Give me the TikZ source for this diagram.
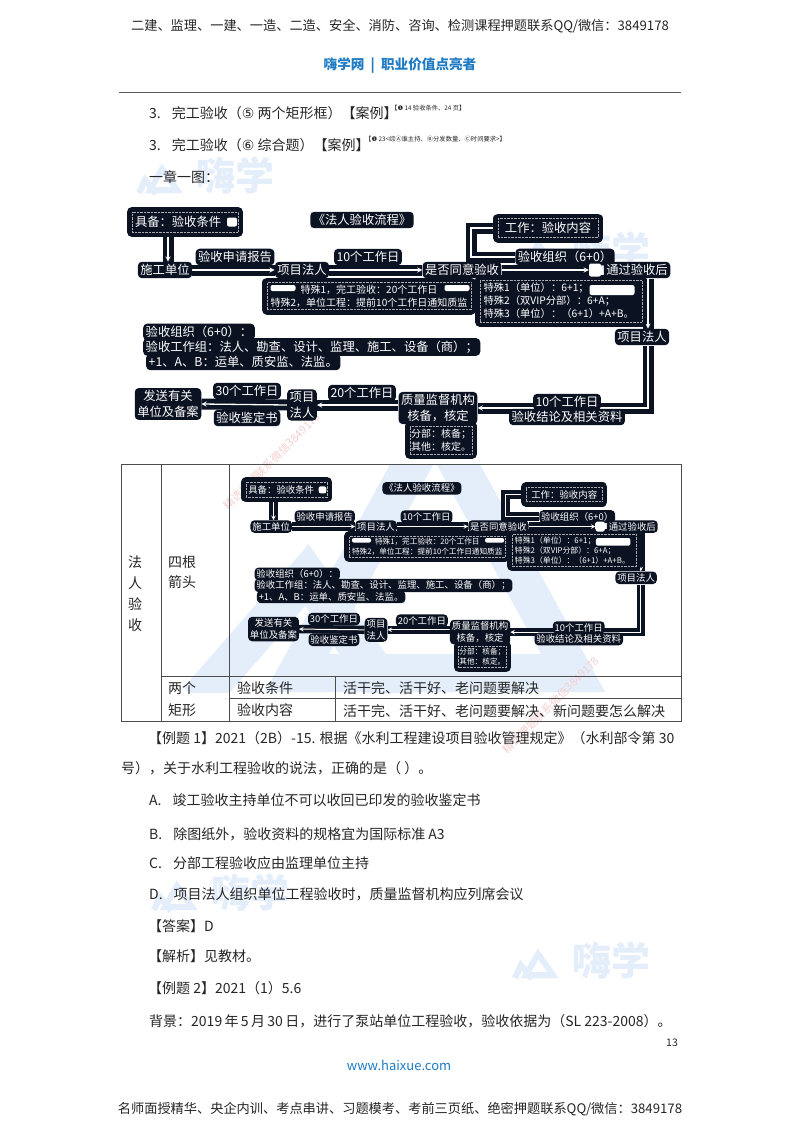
\documentclass[tikz,border=0pt]{standalone}
\usepackage{fontspec}
\setmainfont{Noto Sans CJK SC}
\newfontfamily\symfont{DejaVu Sans}
\usetikzlibrary{backgrounds}
\definecolor{halo}{HTML}{0B1222}
\definecolor{inkgrey}{HTML}{262626}
\definecolor{siteblue}{HTML}{1F7CC4}
\definecolor{markblue}{HTML}{E4EEFB}
\definecolor{stampred}{HTML}{F6CFCF}
% full-width punctuation
\newcommand{\zcm}{\char"FF0C\relax}
\newcommand{\zcl}{\char"FF1A\relax}
\newcommand{\zsc}{\char"FF1B\relax}
\newcommand{\zlp}{\char"FF08\relax}
\newcommand{\zrp}{\char"FF09\relax}
\tikzset{
	bodytext/.style={anchor=west, text=inkgrey, inner sep=0pt, font=\fontsize{14}{16}\selectfont},
	celltext/.style={text=inkgrey, inner sep=0pt, align=center, font=\fontsize{14}{20.5}\selectfont},
	glowtext/.style={fill=halo, text=white, rounded corners=4pt, inner sep=2.5pt, align=center, font=\fontsize{12.3}{15.5}\selectfont},
	panel/.style={fill=halo, draw=white!65!halo, line width=.4pt, densely dotted, text=white, inner sep=0pt, align=center, preaction={draw=halo, line width=10pt, solid, line join=round}},
	blob/.style={fill=white, rounded corners=2pt, inner sep=0pt},
	flowline/.style={-stealth, draw=white, line width=\k*1.3pt, preaction={draw=halo, line width=\k*11pt, -}},
	stamp/.style={rotate=45, text=stampred, inner sep=0pt, font=\fontsize{11}{13}\selectfont},
}
\begin{document}
\begin{tikzpicture}[x=1pt, y=-1pt]
\path[use as bounding box] (0,0) rectangle (800,1132);

% Watermarks
\begin{pgfonlayer}{background}
\fill[white] (0,0) rectangle (800,1132);
\foreach \dx/\dy/\i in {-376/-785/1, 0/-710/2, -361/-68/3, 0/0/4} {
	\begin{scope}[shift={(\dx,\dy)}]
		\draw[markblue, line width=6pt, line join=miter] (515,978) -- (521,965) -- (532,979);
		\draw[markblue, line width=6pt, line join=miter] (526,975) -- (538,954) -- (553,975) -- cycle;
		\node[text=markblue, inner sep=0pt, font=\fontsize{39}{40}\selectfont\bfseries] (mark\i) at (611,961) {嗨学};
	\end{scope}
}
\begin{scope}
	\clip (121,464) rectangle (681,692);
	\draw[markblue, line width=38pt, line join=miter] (297,673) -- (435,422) -- (573,673) -- cycle;
	\draw[markblue, line width=38pt, line join=miter] (198,700) -- (307,575) -- (395,700);
\end{scope}
\node[stamp] (stampa) at (272,461) {精选押题联系微信3849178};
\node[stamp] (stampb) at (551,705) {精选押题联系微信3849178};
\end{pgfonlayer}

% Page head
\node[text=inkgrey, inner sep=0pt, font=\fontsize{13.2}{16}\selectfont] (headline) at (400,26) {二建、监理、一建、一造、二造、安全、消防、咨询、检测课程押题联系QQ/微信\zcl 3849178};
\node[text=siteblue, inner sep=0pt, font=\fontsize{13.6}{16}\selectfont\bfseries] (brand) at (400,66) {嗨学网\ \ |\ \ 职业价值点亮者};
\draw[black!65, line width=1pt] (119,92) -- (681,92);

% Lines over the flow
\node[bodytext] (item1) at (149,113) {3.\hspace{11pt}完工验收\zlp{\symfont⑤} 两个矩形框\zrp 【案例】};
\node[anchor=west, text=inkgrey, inner sep=0pt, font=\fontsize{6.3}{8}\selectfont] (note1) at (391,108) {【{\symfont❶} 14 验收条件、24 页】};
\node[bodytext] (item2) at (149,145) {3.\hspace{11pt}完工验收\zlp{\symfont⑥} 综合题\zrp 【案例】};
\node[anchor=west, text=inkgrey, inner sep=0pt, font=\fontsize{6.3}{8}\selectfont] (note2) at (365,139) {【{\symfont❶} 23<综Ⓐ谁主持、Ⓑ分发数量、Ⓒ时间要求>】};
\node[bodytext] (oneimg) at (149,177) {一章一图\zcl};

% Table
\draw[black!70, line width=.8pt] (121,464) rectangle (681,721);
\draw[black!70, line width=.8pt] (161,464) -- (161,721);
\draw[black!70, line width=.8pt] (229,464) -- (229,721);
\draw[black!70, line width=.8pt] (335,676) -- (335,721);
\draw[black!70, line width=.8pt] (161,676) -- (681,676);
\draw[black!70, line width=.8pt] (229,698) -- (681,698);
\foreach \n/\x/\y/\t in {fa/135/562/法, ren/135/583/人, yan/135/604/验, shou/135/625/收, si/182/562/四根, jian/182/582/箭头, liang/182/688/两个, ju/182/710/矩形, cond/265/688/验收条件, cont/265/710/验收内容}
	\node[celltext] (cell\n) at (\x,\y) {\t};
\node[celltext, anchor=west] (work1) at (343,688) {活干完、活干好、老问题要解决};
\node[celltext, anchor=west] (work2) at (343,711) {活干完、活干好、老问题要解决、新问题要怎么解决};

% The flow, large and then small
\foreach \p/\k/\dx/\dy in {a/1/0/0, b/0.765/145/320} {
	\begin{scope}[shift={(\dx,\dy)}, scale=\k, every node/.append style={scale=\k}]

	% Panels
	\node[panel, minimum width=106pt, minimum height=20pt, text width=100pt, align=left, font=\fontsize{12.3}{15}\selectfont] (\p req) at (185,222) {具备\zcl 验收条件};
	\node[panel, minimum width=100pt, minimum height=19pt, font=\fontsize{12.3}{15}\selectfont] (\p work) at (548,228) {工作\zcl 验收内容};
	\node[panel, minimum width=204pt, minimum height=27pt, font=\fontsize{10}{13}\selectfont] (\p tsa) at (369,296) {特殊1\zcm 完工验收\zcl 20个工作日\\特殊2\zcm 单位工程\zcl 提前10个工作日通知质监};
	\node[panel, minimum width=162pt, minimum height=42pt, text width=155pt, align=left, font=\fontsize{10.3}{13}\selectfont] (\p tsb) at (561,301) {特殊1\zlp 单位\zrp\zcl 6+1\zsc\\特殊2\zlp 双VIP分部\zrp\zcl 6+A\zsc\\特殊3\zlp 单位\zrp\zcl\zlp 6+1\zrp +A+B。};
	\node[panel, minimum width=62pt, minimum height=28pt, font=\fontsize{10}{13}\selectfont] (\p part) at (441,440) {分部\zcl 核备\zsc\\其他\zcl 核定。};

	% Labels
	\foreach \n/\x/\y/\t in {title/362/220/《法人验收流程》, shigong/165/270/施工单位, apply/235/257/验收申请报告, owner/302/270/项目法人, daya/368/257/10个工作日, agree/462/270/是否同意验收, group/565/257/{验收组织\zlp 6+0\zrp}, pass/637/270/通过验收后, ownerb/642/337/项目法人, dayb/567/402/10个工作日, result/567/417/验收结论及相关资料, dayc/362/393/20个工作日, dayd/247/391/30个工作日, cert/247/418/验收鉴定书}
		\node[glowtext] (\p\n) at (\x,\y) {\t};
	\node[glowtext] (\p quality) at (438,408) {质量监督机构\\核备\zcm 核定};
	\node[glowtext] (\p ownerc) at (302,405) {项目\\法人};
	\node[glowtext] (\p send) at (168,404) {发送有关\\单位及备案};

	% Organisation text
	\node[glowtext, anchor=west] (\p orga) at (143,332) {验收组织\zlp 6+0\zrp\zcl};
	\node[glowtext, anchor=west] (\p orgb) at (143,347) {验收工作组\zcl 法人、勘查、设计、监理、施工、设备\zlp 商\zrp\zsc};
	\node[glowtext, anchor=west] (\p orgc) at (146,362) {+1、A、B\zcl 运单、质安监、法监。};

	% Erased spots
	\node[blob, minimum width=10pt, minimum height=9pt] (\p spota) at (232,222) {};
	\node[blob, minimum width=25pt, minimum height=6pt] (\p spotb) at (283,288) {};
	\node[blob, minimum width=25pt, minimum height=6pt] (\p spotc) at (457,288) {};
	\node[blob, minimum width=45pt, minimum height=10pt] (\p spotd) at (612,290) {};
	\node[blob, minimum width=12pt, minimum height=13pt] (\p spote) at (595,270) {};

	% Connections
	\coordinate (\p reqdown) at (168,235);
	\coordinate (\p turn) at (471,257);
	\coordinate (\p passdown) at (648,279);
	\coordinate (\p ownerdown) at (648,346);
	\begin{pgfonlayer}{background}
	\draw[flowline] (\p reqdown) -- (\p reqdown |- \p shigong.north);
	\draw[flowline] (\p shigong.east) -- (\p owner.west);
	\draw[flowline] (\p owner.east) -- (\p agree.west);
	\draw[flowline] (\p agree.east) -- (\p spote.west);
	\draw[flowline] (\p group.west) -- (\p turn) |- (\p work.west);
	\draw[flowline] (\p passdown) -- (\p passdown |- \p ownerb.north);
	\draw[flowline] (\p ownerdown) |- (\p quality.east);
	\draw[flowline] (\p quality.west |- \p ownerc.east) -- (\p ownerc.east);
	\draw[flowline] (\p ownerc.west) -- (\p send.east);
	\end{pgfonlayer}
	\end{scope}
}

% Lines under the table
\foreach \x/\y/\t in {148/738/{【例题 1】2021\zlp 2B\zrp -15. 根据《水利工程建设项目验收管理规定》\zlp 水利部令第 30}, 121/768/{号\zrp\zcm 关于水利工程验收的说法\zcm 正确的是\zlp\ \zrp。}, 149/800/{A.\hspace{11pt}竣工验收主持单位不可以收回已印发的验收鉴定书}, 149/834/{B.\hspace{11pt}除图纸外\zcm 验收资料的规格宜为国际标准 A3}, 149/863/{C.\hspace{11pt}分部工程验收应由监理单位主持}, 149/894/{D.\hspace{11pt}项目法人组织单位工程验收时\zcm 质量监督机构应列席会议}, 148/926/{【答案】D}, 148/956/{【解析】见教材。}, 148/988/{【例题 2】2021\zlp 1\zrp 5.6}, 149/1021/{背景\zcl 2019\,年\,5\,月\,30\,日\zcm 进行了泵站单位工程验收\zcm 验收依据为\zlp SL 223-2008\zrp。}}
	\node[bodytext] (line\y) at (\x,\y) {\t};

% Page foot
\node[text=inkgrey, inner sep=0pt, font=\fontsize{10.5}{12}\selectfont] (pageno) at (672,1043) {13};
\node[text=siteblue, inner sep=0pt, font=\fontsize{13}{16}\selectfont] (website) at (399,1065) {www.haixue.com};
\node[text=inkgrey, inner sep=0pt, font=\fontsize{13.2}{16}\selectfont] (footline) at (400,1109) {名师面授精华、央企内训、考点串讲、习题模考、考前三页纸、绝密押题联系QQ/微信\zcl 3849178};
\end{tikzpicture}
\end{document}
